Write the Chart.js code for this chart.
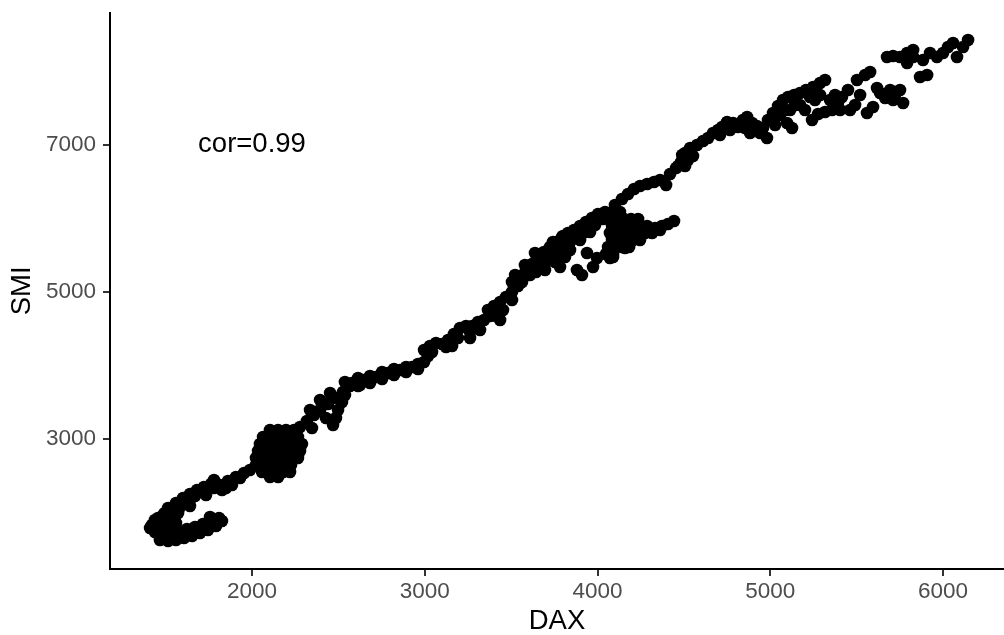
<!DOCTYPE html>
<html><head><meta charset="utf-8">
<script src="https://cdn.jsdelivr.net/npm/chart.js@4"></script>
<style>html,body{margin:0;padding:0;background:#fff}canvas{display:block}</style>
</head><body>
<canvas id="c" width="1004" height="635"></canvas>
<script>
// DAX values (x)
const dax = [
  1467,1514,1560,1606,1653,1699,1745,1792,1826,
  1438,1485,1531,1577,1624,1670,1716,1763,1809,1757,
  1421,1467,1514,1560,1456,1502,1548,1572,
  1514,1560,1601,1641,1682,1722,1763,1734,1537,1641,
  1815,1861,1907,1954,1988,1826,1884,1780,
  2104,2151,2197,2243,
  2064,2104,2145,2185,2226,2266,
  2046,2087,2127,2168,2208,2249,2289,
  2035,2075,2116,2156,2197,2237,2278,
  2023,2064,2104,2145,2185,2226,2266,
  2023,2064,2104,2145,2185,2226,
  2058,2098,2139,2180,2220,
  2104,2151,
  2278,2318,2359,2394,2440,2486,2527,2567,2498,2486,2469,2428,2521,2347,
  2579,2614,2648,2683,2718,2753,2787,2822,2857,2892,2926,2961,2996,3019,2996,3030,3065,3100,2625,2538,
  3135,3169,3204,3239,3274,3308,3343,3378,3413,3436,3366,3401,3436,3470,3505,3540,3192,3262,
  3505,3551,3586,3621,3656,3690,3725,3760,3795,3829,3864,3899,3933,3968,4003,
  3667,3725,3783,3841,3609,3783,3881,3910,3974,3997,3939,3742,3800,4090,
  4044,4084,4130,
  4032,4072,4113,4154,4194,4235,
  4084,4125,4165,4206,4246,4287,
  4072,4113,4154,4194,4235,4275,4316,
  4084,4125,4165,4206,4246,
  4061,4101,4142,4183,
  4049,4090,
  4333,4373,4408,4443,4304,4362,4072,4159,
  4101,4142,4177,4212,4246,4287,4327,4362,4397,4420,4455,4484,4490,
  4507,4536,4576,4611,4640,4669,4698,4721,4750,4785,4813,4842,4866,4895,4923,4958,4981,4987,
  5016,5045,5074,5103,5138,5172,5097,5126,5207,5248,5288,5317,5242,5277,5317,5358,5346,5392,5415,5450,
  4883,5143,5201,5259,5057,
  5502,5549,5578,5560,5595,5618,5636,5665,5694,5722,5751,5769,5711,
  5676,5711,5751,5792,5827,5792,5827,5867,5908,5884,5925,5965,6000,6029,6058,6081,6116,6145,
  5520,5491,5462,
  2614,2683,2753,2822,2892,2961,3042,3123,
  3320,3453,3505,3262,3158,
  3644,3563,3702,3760,3841,3899,3957,3986,
  4553,1537,1630,
  1496,1537,1461,1641,1699,1410,1786,1496,1554,1612,1670,1728,1780,
  1931,1849,
  2394,2452,2336,2538,
  3523,3580,3638,3812,3870,3928,3754,3812,3696,
  4467,4524,4507,4709,4767,4854,4941,5115,5172,5230,5288,5375,5028,5404,
  1583,1641,1438,1525,1490,5086
];
// SMI values (y)
const smi = [
  1626,1613,1626,1654,1681,1722,1762,1817,1885,
  1735,1722,1722,1749,1776,1803,1844,1885,1926,1939,
  1830,1817,1830,1858,1926,1953,1980,1994,
  2062,2130,2198,2252,2306,2347,2388,2238,2034,2170,
  2374,2429,2483,2538,2578,2306,2374,2334,
  3122,3122,3122,3122,
  3027,3027,3027,3027,3027,3027,
  2932,2932,2932,2932,2932,2932,2932,
  2837,2837,2837,2837,2837,2837,2837,
  2742,2742,2742,2742,2742,2742,2742,
  2646,2646,2646,2646,2646,2646,
  2551,2551,2551,2551,2551,
  2483,2483,
  3163,3245,3326,3394,3476,3558,3639,3721,3394,3286,3190,3286,3503,3150,
  3762,3830,3802,3857,3843,3911,3898,3952,3938,3979,3979,4020,4047,4129,4210,4265,4306,4292,3734,3775,
  4346,4428,4510,4537,4537,4591,4618,4673,4673,4618,4754,4809,4863,4931,4999,5081,4374,4455,
  5135,5217,5298,5380,5462,5543,5611,5679,5747,5802,5842,5897,5951,6006,6060,
  5366,5462,5570,5679,5230,5339,5298,5230,5339,5462,5530,5679,5761,5475,
  6087,6087,6087,
  5992,5992,5992,5992,5992,5992,
  5897,5897,5897,5897,5897,5897,
  5802,5802,5802,5802,5802,5802,5802,
  5706,5706,5706,5706,5706,
  5611,5611,5611,5611,
  5516,5516,
  5870,5897,5924,5965,5815,5842,5462,5598,
  6182,6264,6332,6400,6441,6468,6495,6522,6454,6604,6686,6767,6862,
  6889,6958,6998,7053,7094,7162,7202,7243,7311,7298,7243,7338,7379,7298,7257,7230,7094,7338,
  7434,7529,7610,7651,7678,7706,7298,7230,7746,7787,7842,7882,7338,7420,7447,7474,7610,7570,7651,7746,
  7162,7542,7474,7610,7406,
  7882,7950,7991,7434,7515,7774,7706,7638,7746,7678,7746,7570,7610,
  8195,8209,8195,8250,8290,8114,8195,7923,7950,8154,8250,8195,8250,8331,8386,8195,8331,8426,
  7678,7542,7474,
  3721,3762,3816,3870,3911,3952,4183,4252,
  4482,4754,4890,4374,4265,
  5271,5135,5407,5516,5570,5706,5815,5910,
  6849,1789,1708,
  1885,1912,1762,1722,1789,1790,1871,1994,2075,2157,2225,2293,2442,
  2470,2334,
  3530,3626,3394,3598,
  5230,5366,5530,5638,5734,5815,5407,5475,5298,
  6713,6794,6713,7134,7202,7230,7162,7474,7542,7651,7678,7678,7270,7474,
  2075,2089,1898,2021,1980,7474
];
const xTicks = [2000, 3000, 4000, 5000, 6000];
const yTicks = [3000, 5000, 7000];
const xTitle = 'DAX';
const yTitle = 'SMI';
const note = { text: 'cor=0.99', x: 2000, y: 7000 };

const FAMILY = '"Liberation Sans", Arial, Helvetica, sans-serif';
const points = dax.map((v, i) => ({ x: v, y: smi[i] }));

const notePlugin = {
  id: 'note',
  afterDatasetsDraw(chart) {
    const { ctx, scales } = chart;
    ctx.save();
    ctx.font = '27.5px ' + FAMILY;
    ctx.fillStyle = '#000';
    ctx.textAlign = 'center';
    ctx.textBaseline = 'middle';
    ctx.fillText(note.text, scales.x.getPixelForValue(note.x), scales.y.getPixelForValue(note.y));
    ctx.restore();
  }
};

function axisCommon(ticksArr) {
  return {
    type: 'linear',
    afterBuildTicks: s => { s.ticks = ticksArr.map(v => ({ value: v })); },
    grid: { display: true, drawOnChartArea: false, drawTicks: true, tickLength: 7, color: '#333333', lineWidth: 2 },
    border: { display: true, color: '#000000', width: 2 },
    ticks: { color: '#4D4D4D', font: { family: FAMILY, size: 22.5 }, autoSkip: false, maxRotation: 0, callback: v => String(v) }
  };
}
function zeroPad(s) { s.paddingTop = 0; s.paddingBottom = 0; s.paddingLeft = 0; s.paddingRight = 0; }

const xAxis = axisCommon(xTicks);
xAxis.min = 1178; xAxis.max = 6353;
xAxis.afterFit = s => { s.height = 66; zeroPad(s); };
xAxis.ticks.padding = 2;
xAxis.title = { display: true, text: xTitle, color: '#000', font: { family: FAMILY, size: 27.5, lineHeight: 1 }, padding: { top: 0, bottom: 0 } };

const yAxis = axisCommon(yTicks);
yAxis.min = 1232; yAxis.max = 8798;
yAxis.afterFit = s => { s.width = 110; zeroPad(s); };
yAxis.ticks.padding = 7;
yAxis.title = { display: true, text: yTitle, color: '#000', font: { family: FAMILY, size: 27.5, lineHeight: 1 }, padding: { top: 8.75, bottom: 0 } };

new Chart(document.getElementById('c'), {
  type: 'scatter',
  data: { datasets: [{ data: points, backgroundColor: '#000', borderWidth: 0, pointRadius: 6.3, pointHoverRadius: 6.3 }] },
  options: {
    responsive: false,
    animation: false,
    events: [],
    layout: { autoPadding: false, padding: { top: 12.7, right: 0, bottom: 0, left: 0 } },
    plugins: { legend: { display: false }, tooltip: { enabled: false } },
    scales: { x: xAxis, y: yAxis }
  },
  plugins: [notePlugin]
});
</script>
</body></html>
